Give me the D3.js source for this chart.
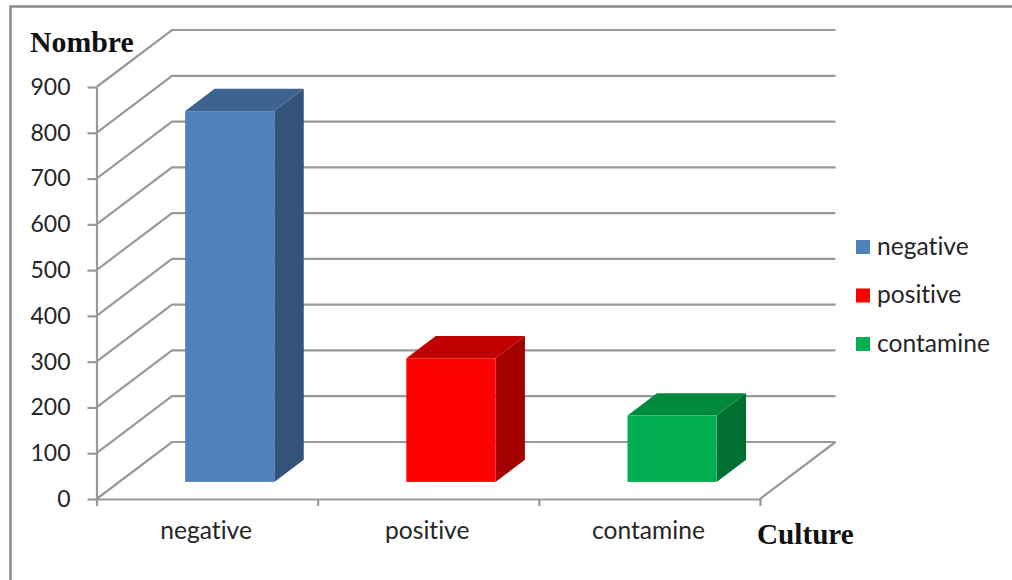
<!DOCTYPE html>
<html>
<head>
<meta charset="utf-8">
<script src="https://cdn.jsdelivr.net/npm/d3@7"></script>
<style>
  html, body { margin: 0; padding: 0; background: #fff; }
  svg { display: block; }
  .label { font-family: Lato, "Open Sans", sans-serif; font-size: 24.6px; fill: #262626; font-variant-ligatures: none; }
  .value { font-family: Lato, "Open Sans", sans-serif; font-size: 23px; fill: #262626; }
  .title { font-family: "Liberation Serif", serif; font-weight: bold; font-size: 29.8px; fill: #111; }
</style>
</head>
<body>
<svg id="chart" width="1012" height="580"></svg>
<script>
// Chart values
const categories = ["negative", "positive", "contamine"];
const counts = [810, 270, 145];
const yTicks = [0, 100, 200, 300, 400, 500, 600, 700, 800, 900];
const frontColors = ["#4f81bd", "#ff0000", "#00b050"];
const topColors = ["#3e6390", "#c20000", "#008a3c"];
const sideColors = ["#335379", "#a30000", "#007030"];

const gridColor = "#999999";
const svg = d3.select("#chart");

// Scales for the front plane of the box
const y = d3.scaleLinear().domain([0, 900]).range([499, 87]);
const x = d3.scaleBand().domain(categories).range([96.5, 760]);
const xEdges = d3.scaleLinear().domain([0, categories.length]).range([96.5, 760]);

// Oblique projection: depth 0 is the front plane, depth 1 the back wall
const depthX = d3.scaleLinear().domain([0, 1]).range([0, 75.5]);
const depthY = d3.scaleLinear().domain([0, 1]).range([0, -57]);
const project = (px, py, d) => [px + depthX(d), py + depthY(d)];
const path = pts => d3.line()(pts) + "Z";

// Outer frame
svg.append("path")
  .attr("d", "M10.5,580V6.5H1012")
  .attr("fill", "none")
  .attr("stroke", "#8a8a8a")
  .attr("stroke-width", 2.5);

// Side wall diagonals and back wall gridlines
const grid = svg.append("g")
  .attr("fill", "none")
  .attr("stroke", gridColor)
  .attr("stroke-width", 2.2);

grid.selectAll("path.wall")
  .data(yTicks)
  .join("path")
  .attr("class", "wall")
  .attr("d", t => d3.line()([
    [x.range()[0], y(t)],
    project(x.range()[0], y(t), 1),
    project(x.range()[1], y(t), 1)
  ]));

// Right edge of the floor
grid.append("path")
  .attr("d", d3.line()([
    [x.range()[1], y(0)],
    project(x.range()[1], y(0), 1)
  ]));

// Bars: three visible faces of a box standing inside the floor
const barWidth = x.bandwidth() * 0.403;
const depthNear = 0.3;
const depthFar = 0.69;
const depthSpan = depthFar - depthNear;

const bars = svg.append("g").selectAll("g")
  .data(categories.map((c, i) => ({ c, v: counts[i], i })))
  .join("g");

const barLeft = d => project(x(d.c) + (x.bandwidth() - barWidth) / 2, 0, depthNear)[0];
const barBase = d => project(0, y(0), depthNear)[1];
const barTop = d => project(0, y(d.v), depthNear)[1];

bars.append("path")
  .attr("fill", d => sideColors[d.i])
  .attr("d", d => {
    const r = barLeft(d) + barWidth, b = barBase(d), t = barTop(d);
    return path([[r, t], project(r, t, depthSpan), project(r, b, depthSpan), [r, b]]);
  });

bars.append("path")
  .attr("fill", d => topColors[d.i])
  .attr("d", d => {
    const l = barLeft(d), r = l + barWidth, t = barTop(d);
    return path([[l, t], [r, t], project(r, t, depthSpan), project(l, t, depthSpan)]);
  });

bars.append("rect")
  .attr("fill", d => frontColors[d.i])
  .attr("x", barLeft)
  .attr("y", barTop)
  .attr("width", barWidth)
  .attr("height", d => barBase(d) - barTop(d));

// Value axis
const yAxis = svg.append("g")
  .attr("transform", `translate(${x.range()[0]},0)`)
  .call(d3.axisLeft(y).tickValues(yTicks).tickSize(9).tickPadding(17).tickSizeOuter(0));
yAxis.select(".domain").attr("stroke", gridColor).attr("stroke-width", 2.2);
yAxis.selectAll(".tick line").attr("stroke", gridColor).attr("stroke-width", 2.2);
yAxis.selectAll("text").attr("class", "value").attr("fill", null);

// Category axis: boundary ticks, then centred names
const xTickAxis = svg.append("g")
  .attr("transform", `translate(0,${y(0)})`)
  .call(d3.axisBottom(xEdges).tickValues(d3.range(categories.length + 1)).tickSize(7).tickSizeOuter(0).tickFormat(""));
xTickAxis.select(".domain").attr("stroke", gridColor).attr("stroke-width", 2.2);
xTickAxis.selectAll(".tick line").attr("stroke", gridColor).attr("stroke-width", 2.2);

const xNameAxis = svg.append("g")
  .attr("transform", `translate(-1,${y(0)})`)
  .call(d3.axisBottom(x).tickSize(0).tickPadding(23));
xNameAxis.select(".domain").remove();
xNameAxis.selectAll("text").attr("class", "label").attr("fill", null);

// Axis titles
svg.append("text").attr("class", "title").attr("x", 30).attr("y", 52).text("Nombre");
svg.append("text").attr("class", "title").attr("x", 757).attr("y", 544).style("font-size", "29.2px").text("Culture");

// Legend
const legendY = d3.scalePoint().domain(categories).range([247, 344]);
const legend = svg.append("g").selectAll("g")
  .data(categories)
  .join("g")
  .attr("transform", c => `translate(856,${legendY(c)})`);
legend.append("rect")
  .attr("y", -7).attr("width", 14).attr("height", 14)
  .attr("fill", (c, i) => frontColors[i]);
legend.append("text")
  .attr("class", "label")
  .attr("x", 21).attr("y", 7.5)
  .text(c => c);
</script>
</body>
</html>
